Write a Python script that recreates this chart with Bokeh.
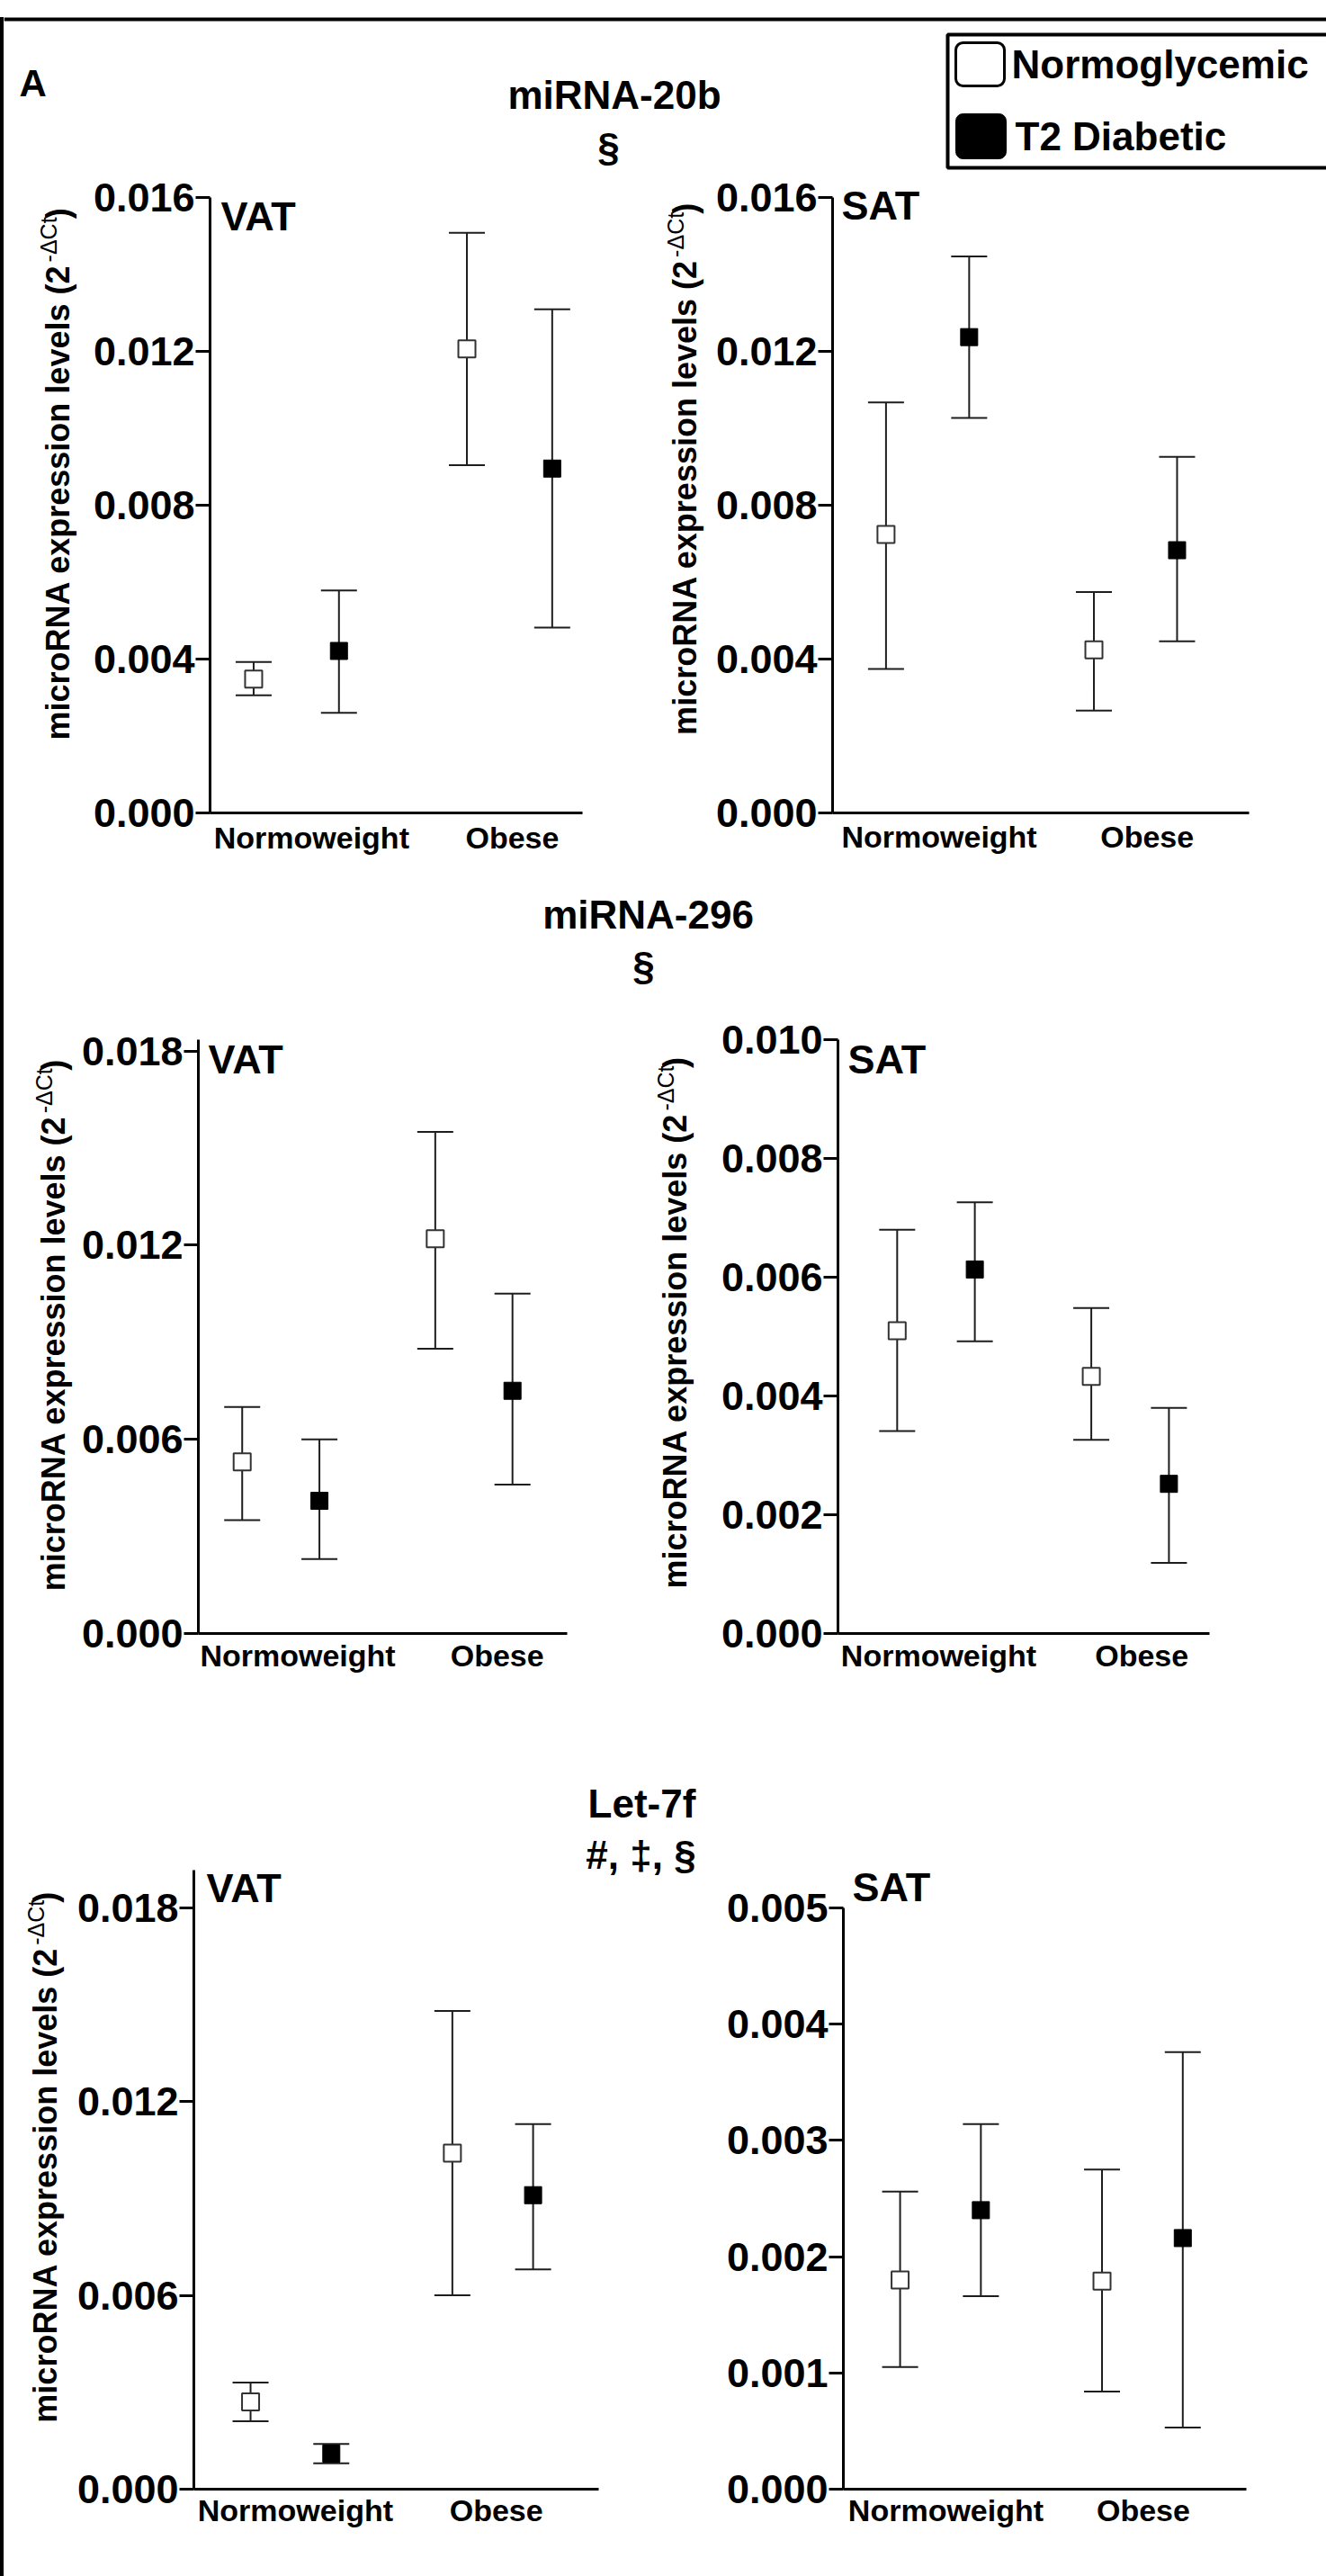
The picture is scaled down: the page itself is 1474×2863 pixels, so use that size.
from math import pi
from bokeh.plotting import figure
from bokeh.layouts import row, column
from bokeh.models import (Range1d, FixedTicker, PrintfTickFormatter, Whisker, TeeHead,
                          ColumnDataSource, Label, Spacer)
from bokeh.core.properties import value
from bokeh.embed import file_html
from bokeh.resources import INLINE

FONT = "Liberation Sans"

# ---------------- data ----------------
categories = ["Normoweight", "Obese"]
series_names = ["Normoglycemic", "T2 Diabetic"]

# miRNA-20b, VAT
mir20b_vat_normo = [0.00348, 0.01206]
mir20b_vat_normo_hi = [0.00392, 0.01508]
mir20b_vat_normo_lo = [0.00306, 0.00904]
mir20b_vat_t2d = [0.00421, 0.00895]
mir20b_vat_t2d_hi = [0.00578, 0.01309]
mir20b_vat_t2d_lo = [0.00260, 0.00482]
# miRNA-20b, SAT
mir20b_sat_normo = [0.00724, 0.00424]
mir20b_sat_normo_hi = [0.01067, 0.00574]
mir20b_sat_normo_lo = [0.00374, 0.00266]
mir20b_sat_t2d = [0.01237, 0.00683]
mir20b_sat_t2d_hi = [0.01447, 0.00926]
mir20b_sat_t2d_lo = [0.01027, 0.00446]
# miRNA-296, VAT
mir296_vat_normo = [0.00530, 0.01220]
mir296_vat_normo_hi = [0.00700, 0.01550]
mir296_vat_normo_lo = [0.00350, 0.00880]
mir296_vat_t2d = [0.00410, 0.00750]
mir296_vat_t2d_hi = [0.00600, 0.01050]
mir296_vat_t2d_lo = [0.00230, 0.00460]
# miRNA-296, SAT
mir296_sat_normo = [0.00510, 0.00433]
mir296_sat_normo_hi = [0.00680, 0.00548]
mir296_sat_normo_lo = [0.00341, 0.00326]
mir296_sat_t2d = [0.00613, 0.00252]
mir296_sat_t2d_hi = [0.00726, 0.00380]
mir296_sat_t2d_lo = [0.00492, 0.00119]
# Let-7f, VAT
let7f_vat_normo = [0.00270, 0.01040]
let7f_vat_normo_hi = [0.00330, 0.01480]
let7f_vat_normo_lo = [0.00210, 0.00600]
let7f_vat_t2d = [0.00110, 0.00910]
let7f_vat_t2d_hi = [0.00140, 0.01130]
let7f_vat_t2d_lo = [0.00080, 0.00680]
# Let-7f, SAT
let7f_sat_normo = [0.00180, 0.00179]
let7f_sat_normo_hi = [0.00256, 0.00275]
let7f_sat_normo_lo = [0.00105, 0.00084]
let7f_sat_t2d = [0.00240, 0.00216]
let7f_sat_t2d_hi = [0.00314, 0.00376]
let7f_sat_t2d_lo = [0.00166, 0.00053]

ticks_20b = [0.000, 0.004, 0.008, 0.012, 0.016]
ticks_296_vat = [0.000, 0.006, 0.012, 0.018]
ticks_296_sat = [0.000, 0.002, 0.004, 0.006, 0.008, 0.010]
ticks_let7f_vat = [0.000, 0.006, 0.012, 0.018]
ticks_let7f_sat = [0.000, 0.001, 0.002, 0.003, 0.004, 0.005]

titles = ["miRNA-20b", "miRNA-296", "Let-7f"]
title_marks = ["\u00a7", "\u00a7", "#, \u2021, \u00a7"]

Y_MAIN = "microRNA expression levels (2"
Y_SUP = "-\u0394Ct"
Y_END = ")"

# ---------------- layout helpers (pixel geometry) ----------------
DODGE = 0.2


def blank(width, height, yflip=False):
    s = figure(width=width, height=height, x_range=Range1d(0, width),
               y_range=Range1d(height, 0) if yflip else Range1d(0, height),
               min_border=0, toolbar_location=None, output_backend="svg", title=None,
               x_axis_location=None, y_axis_location=None)
    s.grid.visible = False
    s.outline_line_color = None
    s.background_fill_color = "white"
    s.border_fill_color = "white"
    return s


def ylabel_fig(fig_x, fig_y, W, H, bx, by_end):
    """Rotated y title. bx = baseline x (global); by_end = global y where the
    main text ends (its top) and the raised '-ΔCt' begins."""
    s = blank(W, H)
    main_size, sup_size = 36, 25
    sup_len = 2.001 * sup_size
    mid_main = 0.3465 * main_size          # em-box middle above baseline
    mid_sup = 0.3465 * sup_size

    def lx(g):
        return g - fig_x

    def ly(g):
        return H - (g - fig_y)
    common = dict(angle=pi / 2, text_font=value(FONT), text_baseline="middle",
                  text_color="black")
    # main text ends exactly at by_end (right aligned along its reading direction)
    s.text(x=[lx(bx - mid_main)], y=[ly(by_end)], text=[Y_MAIN], text_align="right",
           text_font_size=f"{main_size}px", text_font_style="bold", **common)
    s.text(x=[lx(bx - 14 - mid_sup)], y=[ly(by_end - 3)], text=[Y_SUP], text_align="left",
           text_font_size=f"{sup_size}px", text_font_style="normal", **common)
    s.text(x=[lx(bx - mid_main)], y=[ly(by_end - 5 - sup_len)], text=[Y_END], text_align="left",
           text_font_size=f"{main_size}px", text_font_style="bold", **common)
    return s


def make_panel(fig, yaxis_x, xaxis_end, xaxis_y, yaxis_top, xr, ymax, standoff, label_shift,
               series, yticks, tissue, tissue_xy, extra_titles=()):
    fx, fy, W, H = fig
    xs, xe = xr
    bl = yaxis_x - fx
    bb = fy + H - xaxis_y
    fl, fr, ft, fb = yaxis_x, fx + W, fy, xaxis_y
    ppu = (xaxis_end - yaxis_x) / (xe - xs)
    x_end = xs + (fr - fl) / ppu
    y_end = ymax * (fb - ft) / (fb - yaxis_top)

    p = figure(width=W, height=H, x_range=Range1d(xs, x_end), y_range=Range1d(0, y_end),
               min_border_left=bl, min_border_right=0, min_border_top=0, min_border_bottom=bb,
               toolbar_location=None, output_backend="svg", title=None)
    p.grid.visible = False
    p.outline_line_color = None
    p.background_fill_color = "white"
    p.border_fill_color = "white"

    def gx(v):
        return xs + (v - fl) / ppu

    def gy(v):
        return (fb - v) / (fb - ft) * y_end

    # category labels sit slightly right of the group centres in the reference
    label_pos = [round(i + 1 + label_shift[i] / ppu, 4) for i in range(len(categories))]
    xa = p.xaxis[0]
    xa.bounds = (xs, xe)
    xa.ticker = FixedTicker(ticks=label_pos)
    xa.major_label_overrides = {pos: c for pos, c in zip(label_pos, categories)}
    xa.major_tick_out = 0
    xa.major_tick_in = 0
    xa.minor_tick_out = 0
    xa.minor_tick_in = 0
    xa.axis_line_width = 3
    xa.axis_line_color = "black"
    xa.major_label_text_font = FONT
    xa.major_label_text_font_style = "bold"
    xa.major_label_text_font_size = "34px"
    xa.major_label_text_color = "black"
    xa.major_label_standoff = standoff

    ya = p.yaxis[0]
    ya.bounds = (0, ymax)
    ya.ticker = FixedTicker(ticks=yticks)
    ya.formatter = PrintfTickFormatter(format="%.3f")
    ya.major_tick_out = 16
    ya.major_tick_in = 0
    ya.minor_tick_out = 0
    ya.minor_tick_in = 0
    ya.major_tick_line_width = 3
    ya.axis_line_width = 3
    ya.axis_line_color = "black"
    ya.major_tick_line_color = "black"
    ya.major_label_text_font = FONT
    ya.major_label_text_font_style = "bold"
    ya.major_label_text_font_size = "45px"
    ya.major_label_text_color = "black"
    ya.major_label_standoff = 1

    styles = [dict(fill_color="white", line_color="#333333", line_width=2),
              dict(fill_color="black", line_color="black", line_width=1)]
    offsets = [-DODGE, DODGE]
    for (mean, hi, lo), off, st, nm in zip(series, offsets, styles, series_names):
        xpos = [i + 1 + off for i in range(len(categories))]
        src = ColumnDataSource(dict(x=xpos, y=mean, upper=hi, lower=lo))
        w = Whisker(source=src, base="x", upper="upper", lower="lower", dimension="height",
                    line_color="#1e1e1e", line_width=2,
                    upper_head=TeeHead(size=40, line_color="#1e1e1e", line_width=2),
                    lower_head=TeeHead(size=40, line_color="#1e1e1e", line_width=2))
        p.add_layout(w)
        p.scatter("x", "y", source=src, marker="square", size=19, name=nm, **st)

    tx, ty = tissue_xy
    p.add_layout(Label(x=gx(tx), y=gy(ty), text=tissue, text_font=FONT, text_font_style="bold",
                       text_font_size="45px", text_align="left", text_baseline="middle",
                       text_color="black"))
    for txt, cx, cy in extra_titles:
        p.add_layout(Label(x=gx(cx), y=gy(cy), text=txt, text_font=FONT, text_font_style="bold",
                           text_font_size="44px", text_align="center", text_baseline="middle",
                           text_color="black"))
    return p


def strip_text(s, xs_, ys_, texts, align="center", size="44px"):
    s.text(x=xs_, y=ys_, text=texts, text_font=value(FONT), text_font_style="bold",
           text_font_size=size, text_align=align, text_baseline="middle", text_color="black")


# ---- strip 1 (global y 0..190, x 4..1474): frame top, panel letter, title, legend ----
s1 = blank(1470, 190, yflip=True)
s1.segment(x0=[0], y0=[21], x1=[1470], y1=[21], line_width=4, line_color="black")
strip_text(s1, [17], [92], ["A"], align="left", size="42px")
strip_text(s1, [678.5, 672], [105, 163], [titles[0], title_marks[0]])
s1.quad(left=[1049], right=[1490], top=[38], bottom=[186], fill_color="white",
        line_color="black", line_width=4)
s1.quad(left=[1058], right=[1112], top=[47], bottom=[95], fill_color="white",
        line_color="black", line_width=3, border_radius=8)
s1.quad(left=[1058], right=[1114], top=[126], bottom=[176], fill_color="black",
        line_color="black", line_width=1, border_radius=8)
strip_text(s1, [1120, 1124], [71, 151], series_names, align="left", size="44px")

# ---- strip 2 (global y 960..1130): title of second row ----
s2 = blank(1470, 170, yflip=True)
strip_text(s2, [716, 711], [56, 113], [titles[1], title_marks[1]])

# ---- row 1 (global y 190..960) ----
l1 = ylabel_fig(4, 190, 94, 770, 76, 302)
p1 = make_panel((98, 190, 632, 770), 233, 647, 908, 219, (0.5956, 2.342), 0.016, 8, (17, 3),
                [(mir20b_vat_normo, mir20b_vat_normo_hi, mir20b_vat_normo_lo),
                 (mir20b_vat_t2d, mir20b_vat_t2d_hi, mir20b_vat_t2d_lo)],
                ticks_20b, "VAT", (245, 240))
l2 = ylabel_fig(730, 190, 62, 770, 773, 296)
p2 = make_panel((792, 190, 682, 770), 924, 1388, 903, 219, (0.543, 2.547), 0.016, 7, (13, 13),
                [(mir20b_sat_normo, mir20b_sat_normo_hi, mir20b_sat_normo_lo),
                 (mir20b_sat_t2d, mir20b_sat_t2d_hi, mir20b_sat_t2d_lo)],
                ticks_20b, "SAT", (934, 228))

# ---- row 2 (global y 1130..1880) ----
l3 = ylabel_fig(4, 1130, 83, 750, 71, 1250)
p3 = make_panel((87, 1130, 635, 750), 218, 630, 1815, 1155, (0.573, 2.485), 0.01835, 5, (19, 26),
                [(mir296_vat_normo, mir296_vat_normo_hi, mir296_vat_normo_lo),
                 (mir296_vat_t2d, mir296_vat_t2d_hi, mir296_vat_t2d_lo)],
                ticks_296_vat, "VAT", (229, 1177))
l4 = ylabel_fig(722, 1130, 74, 750, 762, 1247)
p4 = make_panel((796, 1130, 678, 750), 931, 1344, 1815, 1155, (0.495, 2.409), 0.010, 5, (3, 13),
                [(mir296_sat_normo, mir296_sat_normo_hi, mir296_sat_normo_lo),
                 (mir296_sat_t2d, mir296_sat_t2d_hi, mir296_sat_t2d_lo)],
                ticks_296_sat, "SAT", (942, 1177))

# ---- row 3 (global y 1880..2863) ----
l5 = ylabel_fig(4, 1880, 78, 983, 62, 2195)
p5 = make_panel((82, 1880, 703, 983), 215, 665, 2766, 2078, (0.519, 2.525), 0.01916, 4, (5, 4),
                [(let7f_vat_normo, let7f_vat_normo_hi, let7f_vat_normo_lo),
                 (let7f_vat_t2d, let7f_vat_t2d_hi, let7f_vat_t2d_lo)],
                ticks_let7f_vat, "VAT", (229, 2098),
                extra_titles=[(titles[2], 713, 2004), (title_marks[2], 712, 2061)])
p6 = make_panel((785, 1880, 689, 983), 937, 1385, 2766, 2120, (0.519, 2.515), 0.005, 4, (6, 1),
                [(let7f_sat_normo, let7f_sat_normo_hi, let7f_sat_normo_lo),
                 (let7f_sat_t2d, let7f_sat_t2d_hi, let7f_sat_t2d_lo)],
                ticks_let7f_sat, "SAT", (947, 2097))

border = column(Spacer(width=4, height=19),
                Spacer(width=4, height=2844, styles={"background-color": "black"}),
                spacing=0)
content = column(s1,
                 row(l1, p1, l2, p2, spacing=0),
                 s2,
                 row(l3, p3, l4, p4, spacing=0),
                 row(l5, p5, p6, spacing=0),
                 spacing=0)
layout = row(border, content, spacing=0)

open("out.html", "w").write(file_html(layout, INLINE))
